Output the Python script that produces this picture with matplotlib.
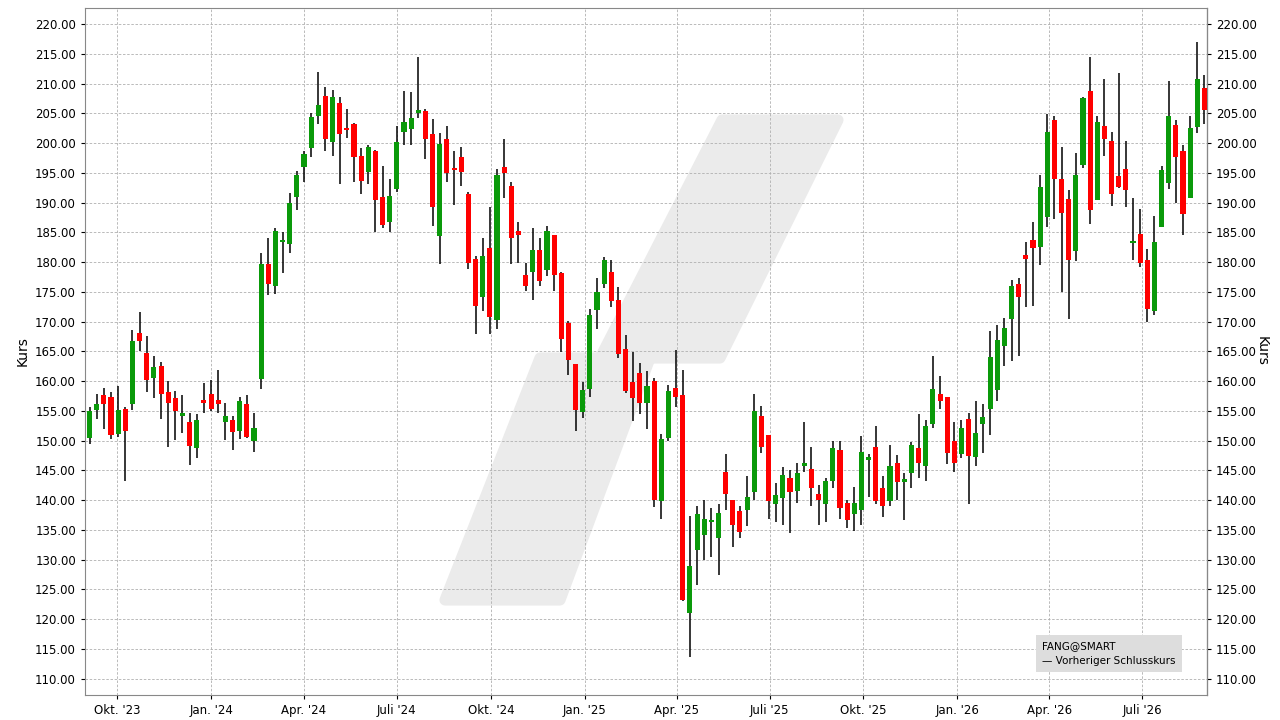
import matplotlib
matplotlib.use("Agg")
import matplotlib.pyplot as plt
import matplotlib.dates as mdates
from matplotlib.patches import Polygon
import pandas as pd

# weekly OHLC
opens = [150.4, 155.2, 157.7, 157.4, 151.1, 155.4, 156.1, 168.1, 164.7, 160.6,
         162.6, 158.2, 157.2, 154.1, 153.1, 148.7, 156.7, 157.9, 156.9, 153.1,
         153.4, 151.6, 156.2, 149.9, 160.4, 179.6, 175.9, 183.4, 183.0, 190.9,
         195.9, 199.2, 204.6, 207.9, 200.1, 206.7, 202.6, 203.2, 197.9, 195.2,
         198.6, 190.9, 186.7, 192.2, 201.9, 202.4, 205.1, 205.4, 201.6, 184.4,
         200.7, 195.7, 197.7, 191.5, 180.6, 174.1, 182.3, 170.2, 196.0, 192.8,
         185.3, 177.8, 178.3, 182.1, 178.6, 184.6, 178.1, 169.7, 162.8, 154.8,
         158.7, 171.9, 176.4, 178.4, 173.7, 165.4, 159.8, 161.3, 156.3, 160.0,
         139.8, 150.5, 158.8, 157.6, 121.1, 131.7, 134.1, 136.4, 133.7, 144.8,
         140.0, 138.1, 138.4, 141.3, 154.1, 150.9, 139.3, 140.3, 143.7, 141.5,
         145.8, 145.2, 141.0, 139.3, 143.3, 148.4, 139.6, 137.6, 138.3, 146.7,
         149.0, 142.1, 139.8, 146.3, 143.1, 144.5, 148.7, 145.8, 152.8, 157.9,
         157.4, 150.0, 147.7, 153.7, 147.2, 152.8, 155.4, 158.5, 165.9, 170.4,
         176.3, 181.2, 183.7, 182.5, 187.6, 203.8, 193.9, 190.6, 181.9, 196.3,
         208.8, 190.4, 202.8, 200.3, 194.4, 195.6, 183.2, 184.8, 180.4, 171.8,
         185.9, 193.3, 203.0, 198.6, 190.8, 202.7, 209.3]
highs = [155.6, 157.9, 158.9, 158.1, 159.1, 155.6, 168.6, 171.6, 167.6, 164.2,
         163.2, 160.1, 158.4, 157.7, 154.7, 154.4, 159.7, 160.2, 161.9, 156.4,
         154.1, 157.4, 157.6, 154.7, 181.6, 184.1, 185.7, 185.1, 191.6, 195.3,
         198.6, 205.1, 211.9, 209.4, 208.9, 207.7, 205.7, 203.4, 199.2, 199.6,
         198.9, 196.1, 193.9, 202.9, 208.7, 208.6, 214.4, 205.7, 204.1, 201.7,
         202.9, 198.6, 199.4, 191.8, 181.0, 184.0, 189.2, 195.7, 200.6, 193.4,
         186.8, 179.9, 185.8, 184.1, 186.1, 184.6, 178.4, 170.1, 162.8, 159.8,
         172.1, 177.4, 180.9, 180.4, 175.8, 167.7, 164.9, 163.0, 161.7, 160.5,
         151.1, 159.3, 165.2, 161.8, 137.3, 139.1, 140.0, 138.6, 139.3, 147.7,
         140.1, 139.1, 144.0, 157.9, 155.9, 150.9, 142.8, 145.5, 145.0, 146.2,
         153.1, 149.0, 142.6, 143.8, 150.0, 150.0, 140.1, 142.2, 150.8, 147.8,
         152.4, 144.1, 149.3, 147.6, 144.6, 149.8, 154.4, 153.4, 164.3, 160.8,
         157.4, 153.2, 153.5, 154.6, 156.7, 156.2, 168.4, 169.4, 170.6, 177.0,
         177.3, 183.4, 186.7, 194.6, 204.8, 204.6, 199.3, 192.1, 198.3, 207.7,
         214.4, 204.5, 210.7, 201.8, 211.7, 200.3, 190.7, 188.9, 182.2, 187.7,
         196.1, 210.5, 203.8, 199.6, 204.5, 216.9, 211.4]
lows = [149.4, 153.6, 151.9, 150.2, 150.6, 143.2, 155.1, 165.1, 158.1, 157.1,
        153.7, 148.9, 150.1, 151.2, 145.9, 147.1, 154.7, 154.9, 154.7, 150.1,
        148.4, 150.2, 150.4, 148.1, 158.7, 174.4, 174.6, 178.2, 181.6, 188.7,
        193.4, 197.6, 203.2, 198.6, 197.9, 193.1, 200.9, 193.4, 191.4, 193.2,
        185.1, 185.7, 185.1, 191.7, 199.7, 199.6, 204.2, 197.4, 186.1, 179.7,
        193.4, 189.6, 192.7, 178.8, 167.9, 171.7, 168.0, 168.7, 190.7, 179.6,
        179.9, 175.1, 173.7, 175.9, 177.6, 175.1, 164.9, 161.0, 151.7, 153.8,
        157.3, 168.7, 175.6, 172.4, 163.9, 158.0, 153.3, 154.5, 152.0, 138.9,
        136.9, 150.0, 155.6, 123.0, 113.7, 125.7, 130.0, 130.4, 127.5, 138.3,
        132.1, 133.6, 135.6, 140.1, 147.9, 136.9, 136.3, 135.8, 134.4, 139.6,
        144.7, 139.1, 135.9, 136.3, 142.0, 136.9, 135.4, 134.8, 135.9, 140.6,
        139.4, 137.1, 139.1, 140.1, 136.7, 142.1, 143.7, 143.3, 152.1, 155.4,
        146.0, 144.7, 147.1, 139.3, 145.8, 148.0, 150.9, 156.6, 162.5, 163.4,
        164.2, 172.5, 172.6, 179.5, 185.9, 187.2, 175.0, 170.5, 180.2, 195.8,
        186.4, 190.4, 197.8, 189.4, 192.4, 189.3, 180.3, 179.2, 170.0, 171.1,
        185.9, 192.3, 189.9, 184.6, 190.8, 201.7, 203.2]
closes = [154.9, 156.2, 156.1, 150.9, 155.2, 151.6, 166.7, 166.7, 160.2, 162.4,
          157.9, 156.4, 154.9, 154.6, 149.1, 153.4, 156.4, 155.4, 156.2, 154.1,
          151.4, 156.6, 150.6, 152.1, 179.6, 176.4, 185.2, 183.6, 190.0, 194.7,
          198.2, 204.4, 206.4, 200.7, 207.7, 201.6, 202.2, 197.7, 193.6, 199.4,
          190.4, 186.2, 191.1, 200.2, 203.6, 204.2, 205.6, 200.7, 189.2, 199.9,
          194.9, 195.4, 195.2, 179.9, 172.6, 181.1, 170.7, 194.7, 195.0, 184.1,
          184.5, 175.9, 182.0, 176.8, 185.3, 177.8, 167.0, 163.5, 155.1, 158.5,
          171.1, 174.9, 180.3, 173.4, 164.5, 158.3, 157.2, 156.3, 159.2, 140.1,
          150.2, 158.4, 157.4, 123.3, 129.0, 137.6, 136.8, 136.7, 137.8, 141.1,
          135.8, 134.6, 140.5, 154.9, 148.9, 139.8, 140.8, 144.3, 141.3, 144.5,
          146.2, 142.0, 140.1, 143.3, 148.7, 138.6, 136.7, 139.6, 148.1, 147.3,
          139.8, 139.1, 145.8, 143.1, 143.6, 149.2, 146.3, 152.5, 158.6, 156.6,
          148.0, 146.3, 152.2, 147.4, 151.2, 153.9, 164.0, 166.9, 169.0, 176.0,
          174.2, 180.6, 182.4, 192.6, 201.8, 194.0, 188.3, 180.4, 194.7, 207.5,
          188.8, 203.5, 200.7, 191.4, 192.6, 192.1, 183.5, 179.9, 172.1, 183.3,
          195.4, 204.6, 197.7, 188.1, 202.5, 210.7, 205.5]

dates = pd.date_range("2023-09-04", periods=len(opens), freq="7D")
tick_dates = pd.to_datetime(["2023-10-01", "2024-01-01", "2024-04-01", "2024-07-01",
                             "2024-10-01", "2025-01-01", "2025-04-01", "2025-07-01",
                             "2025-10-01", "2026-01-01", "2026-04-01", "2026-07-01"])
tick_labels = ["Okt. '23", "Jan. '24", "Apr. '24", "Juli '24", "Okt. '24", "Jan. '25",
               "Apr. '25", "Juli '25", "Okt. '25", "Jan. '26", "Apr. '26", "Juli '26"]

fig = plt.figure(figsize=(12.8, 7.2), dpi=100)
ax = fig.add_axes([0.0664, 0.035, 0.8766, 0.954])

# watermark
W, H = 1280, 720
for pts in [[(722, 120), (838, 120), (720, 358), (600, 358)],
            [(540, 358), (650, 358), (560, 600), (445, 600)]]:
    ax.add_patch(Polygon([(x / W, 1 - y / H) for x, y in pts], closed=True,
                         transform=fig.transFigure, facecolor="#ebebeb",
                         edgecolor="#ebebeb", linewidth=8, joinstyle="round", zorder=0))

x = mdates.date2num(dates)
colors = ["#0a9a0a" if c >= o else "#ff0000" for o, c in zip(opens, closes)]
ax.vlines(x, lows, highs, color="black", linewidth=1.1, zorder=2)
bottoms = [min(o, c) for o, c in zip(opens, closes)]
heights = [max(abs(c - o), 0.35) for o, c in zip(opens, closes)]
ax.bar(x, heights, bottom=bottoms, width=5, color=colors, zorder=3)

ax.set_xlim(x[0] - 4.5, x[-1] + 2.5)
ax.set_ylim(107.3, 222.7)
ax.set_yticks(range(110, 221, 5))
ax.yaxis.set_major_formatter(plt.FuncFormatter(lambda v, p: f"{v:.2f}"))
ax.set_xticks(mdates.date2num(tick_dates))
ax.set_xticklabels(tick_labels)
ax.tick_params(labelsize=8.5, right=True, labelright=True, length=3)
ax.grid(True, linestyle=(0, (3, 2)), color="#b0b0b0", linewidth=0.6)
ax.set_axisbelow(True)
ax.set_ylabel("Kurs", fontsize=10)
ax2 = ax.secondary_yaxis("right")
ax2.set_yticks([])
ax2.set_ylabel("Kurs", fontsize=10, rotation=270, labelpad=44)
for s in ax.spines.values():
    s.set_color("#888888")

ax.text(0.853, 0.042, "FANG@SMART\n\u2014 Vorheriger Schlusskurs", transform=ax.transAxes,
        fontsize=7.5, va="bottom", ha="left", linespacing=1.6,
        bbox=dict(boxstyle="square,pad=0.6", facecolor="#dddddd", edgecolor="none"))

fig.savefig("out.png", dpi=100)
